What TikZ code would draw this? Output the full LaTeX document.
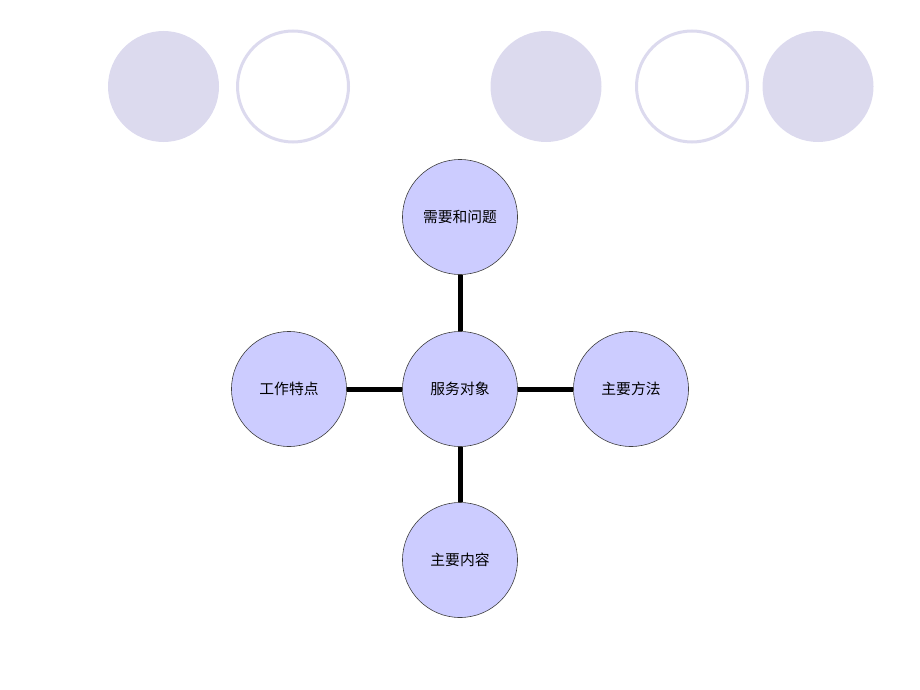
\documentclass[tikz,border=0pt]{standalone}
\usepackage{fontspec}
\newfontfamily\cjk{Noto Sans CJK SC}
\definecolor{deco}{HTML}{DCDAEE}
\definecolor{nodefill}{HTML}{CCCCFF}
\begin{document}
\begin{tikzpicture}[x=1pt,y=-1pt,
  decofill/.style={circle,fill=deco,draw=none,minimum size=111pt,inner sep=0pt},
  decoring/.style={circle,draw=deco,line width=3pt,fill=white,minimum size=111pt,inner sep=0pt},
  topic/.style={circle,draw=black!75,line width=0.6pt,fill=nodefill,minimum size=115pt,inner sep=0pt,font=\cjk\fontsize{14.8}{17}\selectfont},
  link/.style={line width=5pt,black}]
\useasboundingbox (0,0) rectangle (920,690);
\node[decofill] (d1) at (163.5,86.5) {};
\node[decoring] (d2) at (293,86.5) {};
\node[decofill] (d3) at (546,86.5) {};
\node[decoring] (d4) at (692,86.5) {};
\node[decofill] (d5) at (818,86.5) {};
\node[topic] (c) at (460,389) {服务对象};
\node[topic] (t) at (460,217) {需要和问题};
\node[topic] (l) at (289,389) {工作特点};
\node[topic] (r) at (631,389) {主要方法};
\node[topic] (b) at (460,560) {主要内容};
\draw[link] (c) -- (t);
\draw[link] (c) -- (l);
\draw[link] (c) -- (r);
\draw[link] (c) -- (b);
\end{tikzpicture}
\end{document}
